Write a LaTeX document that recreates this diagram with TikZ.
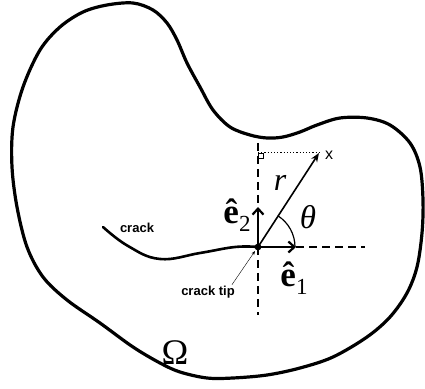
\documentclass[tikz,border=0pt]{standalone}
\usepackage{fontspec}
\usetikzlibrary{arrows.meta}
\newfontfamily\arialfont{Liberation Sans}
\newfontfamily\timesfont{Liberation Serif}
\newcommand{\unitlab}[1]{{\bfseries ê}\raisebox{-8pt}{\fontsize{23}{23}\selectfont #1}}

\begin{document}
\begin{tikzpicture}[
  x=1pt, y=1pt,
  boundary/.style={
    line width=3.2pt,
    line join=round
  },
  crackline/.style={line width=2.6pt, line cap=round},
  axisline/.style={line width=2pt, dash pattern=on 8pt off 5pt},
  unitvec/.style={
    line width=2.2pt,
    -{Straight Barb[length=6pt,width=11pt,line width=2.2pt]}
  },
  posvec/.style={line width=1.6pt, -{Stealth[length=9pt,width=7pt]}},
  smalllabel/.style={font=\arialfont\bfseries\fontsize{13}{13}\selectfont, inner sep=1pt},
  biglabel/.style={inner sep=0pt, font=\timesfont\fontsize{35}{35}\selectfont},
  arr/.style={->, thin, >={Stealth[length=4pt,width=3pt]}}
]
\useasboundingbox (0,0) rectangle (425,388);

% Domain boundary
\draw[boundary] plot[smooth cycle, tension=0.55] coordinates {
  (187,325) (200,301) (213,278) (230,261) (250,253) (267,250)
  (283,251) (300,256) (317,263) (340,270) (367,270) (390,263)
  (410,245) (420,221) (423,188) (422,155) (417,121) (407,95)
  (390,71) (367,51) (333,31) (300,20) (267,13) (233,10)
  (207,10) (180,16) (160,25) (133,41) (100,65) (67,88)
  (43,111) (27,141) (17,181) (12,221) (13,261) (23,301)
  (40,338) (60,361) (83,376) (107,383) (133,385) (153,378)
  (167,365) (177,348)
};

% Points
\coordinate (tip) at (258,141);
\coordinate (e1end) at (296,141);
\coordinate (e2end) at (258,181);
\coordinate (xpt) at (319,235);
\coordinate (foot) at (258,235);
\coordinate (vtop) at (258,245);
\coordinate (vbot) at (258,73);
\coordinate (hend) at (365,141);

% Dashed axes
\draw[axisline] (vtop) -- (vbot);
\draw[axisline] (e1end) -- (hend);

% Crack
\draw[crackline] plot[smooth, tension=0.7] coordinates {
  (103,161) (128,142) (160,129) (200,135) (235,141) (tip)
};

% Dotted projection with right angle mark
\draw[line width=1pt, dash pattern=on 1.2pt off 2pt] (foot) -- (xpt);
\draw[line width=0.4pt] (foot) rectangle ++(5,-5);

% Vectors
\draw[unitvec] (tip) -- (e1end);
\draw[unitvec] (tip) -- (e2end);
\draw[posvec] (tip) -- (xpt);
\draw[line width=1.2pt] ([xshift=37pt]tip) arc[start angle=0, end angle=57.5, radius=37];
\fill (tip) circle (3.4pt);

% Labels
\node[biglabel] (e2lab) at (237,173) {\unitlab{2}};
\node[biglabel] (e1lab) at (294,110) {\unitlab{1}};
\node[biglabel, font=\timesfont\itshape\fontsize{33}{33}\selectfont] (thetalab) at (308,171) {θ};
\node[biglabel, font=\timesfont\itshape\fontsize{32}{32}\selectfont] (rlab) at (280,205) {r};
\node[biglabel, font=\arialfont\fontsize{16}{16}\selectfont] (xlab) at (329,233) {x};
\node[biglabel, font=\timesfont\fontsize{36}{36}\selectfont] (omegalab) at (175,35) {Ω};
\node[smalllabel] (cracklab) at (137,160) {crack};
\node[smalllabel] (tiplab) at (208,96) {crack tip};

\draw[arr] ([xshift=-4pt]tiplab.north east) -- ([shift={(-3pt,-4pt)}]tip);

\end{tikzpicture}
\end{document}
